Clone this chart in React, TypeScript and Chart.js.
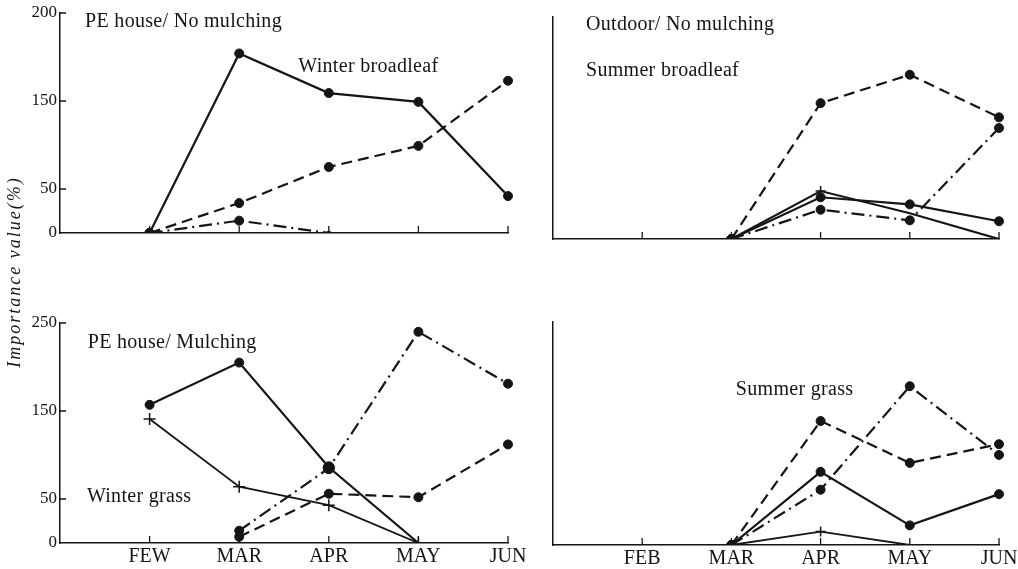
import React, { useEffect, useRef } from "react";
import { Chart, registerables } from "chart.js";

Chart.register(...registerables);

const INK = "#151515";
const SERIF = "'Liberation Serif', 'DejaVu Serif', serif";

// ---- categories / tick labels ----
const leftMonths = ["", "FEW", "MAR", "APR", "MAY", "JUN"];
const rightMonths = ["", "FEB", "MAR", "APR", "MAY", "JUN"];
const yTickValues = [0, 50, 150, 250];
const topLeftTickLabels = ["0", "50", "150", "200"];
const bottomLeftTickLabels = ["0", "50", "150", "250"];

// ---- PE house / No mulching (Winter broadleaf) ----
const phNoMulchSolid = [null, 0, 204, 159, 149, 42];
const phNoMulchDashed = [null, 0, 34, 75, 99, 173];
const phNoMulchDashDot = [null, 0, 14, 0, null, null];

// ---- Outdoor / No mulching (Summer broadleaf) ----
const odNoMulchDashed = [null, null, 0, 153, 185, 137];
const odNoMulchDashDot = [null, null, 0, 33, 21, 125];
const odNoMulchSolidA = [null, null, 0, 54, 29, 0];
const odNoMulchSolidB = [null, null, 0, 47, 39, 20];

// ---- PE house / Mulching (Winter grass) ----
const phMulchSolidDot = [null, 157, 205, 86, 0, null];
const phMulchSolidCross = [null, 141, 64, 43, 0, null];
const phMulchDashDot = [null, null, 14, 85, 240, 181];
const phMulchDashed = [null, null, 7, 56, 52, 112];

// ---- Outdoor / Mulching (Summer grass) ----
const sgDashDot = [null, null, 0, 62, 178, 101];
const sgDashed = [null, null, 0, 139, 92, 113];
const sgSolidDot = [null, null, 0, 82, 22, 57];
const sgSolidCross = [null, null, 0, 15, 0, null];

const DASH = [11, 6];
const DASHDOT = [13, 5, 2, 5];

function line(data: (number | null)[], extra: any = {}) {
  return {
    data,
    borderColor: INK,
    backgroundColor: INK,
    pointBackgroundColor: INK,
    pointBorderColor: INK,
    borderWidth: 2.2,
    pointRadius: 4.5,
    pointHoverRadius: 4.5,
    pointBorderWidth: 1,
    tension: 0,
    fill: false,
    spanGaps: false,
    ...extra,
  };
}

const panelTextPlugin = {
  id: "panelText",
  afterDatasetsDraw(chart: any, _args: any, opts: any) {
    const items = (opts && opts.items) || [];
    const { ctx, scales } = chart;
    ctx.save();
    ctx.fillStyle = INK;
    ctx.font = `20px ${SERIF}`;
    ctx.textAlign = "left";
    ctx.textBaseline = "middle";
    (ctx as any).letterSpacing = "0.3px";
    items.forEach((it: any) => {
      ctx.fillText(it.text, scales.x.getPixelForValue(it.x), scales.y.getPixelForValue(it.y));
    });
    ctx.restore();
  },
};

const innerTicksPlugin = {
  id: "innerTicks",
  afterDraw(chart: any, _args: any, opts: any) {
    const { ctx, scales, chartArea } = chart;
    const x = scales.x;
    const y = scales.y;
    ctx.save();
    ctx.strokeStyle = INK;
    ctx.lineWidth = 1.3;
    ctx.beginPath();
    x.ticks.forEach((_t: any, i: number) => {
      if (i === 0) return;
      const px = x.getPixelForTick(i);
      ctx.moveTo(px, chartArea.bottom);
      ctx.lineTo(px, chartArea.bottom - 7);
    });
    if (opts && opts.y) {
      y.ticks.forEach((t: any, i: number) => {
        if (t.value === 0) return;
        const py = y.getPixelForTick(i);
        ctx.moveTo(chartArea.left, py);
        ctx.lineTo(chartArea.left + 6, py);
      });
    }
    ctx.stroke();
    ctx.restore();
  },
};

type Panel = {
  left: number;
  top: number;
  w: number;
  h: number;
  yW: number;
  xH: number;
  padTop: number;
  padRight: number;
  labels: string[];
  showX: boolean;
  yLabels: string[] | null;
  datasets: any[];
  texts: { text: string; x: number; y: number }[];
};

const panels: Panel[] = [
  {
    left: 20, top: 0, w: 500, h: 250, yW: 40, xH: 17, padTop: 13, padRight: 12,
    labels: leftMonths, showX: false, yLabels: topLeftTickLabels,
    datasets: [
      line(phNoMulchSolid),
      line(phNoMulchDashed, { borderDash: DASH }),
      line(phNoMulchDashDot, { borderDash: DASHDOT, pointRadius: [0, 4.5, 4.5, 2, 0, 0] }),
    ],
    texts: [
      { text: "PE house/ No mulching", x: 0.28, y: 240 },
      { text: "Winter broadleaf", x: 2.66, y: 189 },
    ],
  },
  {
    left: 530, top: 0, w: 488, h: 250, yW: 23, xH: 11, padTop: 17, padRight: 19,
    labels: rightMonths, showX: false, yLabels: null,
    datasets: [
      line(odNoMulchDashed, { borderDash: DASH }),
      line(odNoMulchDashDot, { borderDash: DASHDOT }),
      line(odNoMulchSolidA, { pointStyle: "cross", pointRadius: [0, 0, 4, 5, 0, 0], pointBorderWidth: 1.5 }),
      line(odNoMulchSolidB),
    ],
    texts: [
      { text: "Outdoor/ No mulching", x: 0.37, y: 241 },
      { text: "Summer broadleaf", x: 0.37, y: 189 },
    ],
  },
  {
    left: 20, top: 290, w: 510, h: 279, yW: 40, xH: 26, padTop: 33, padRight: 22,
    labels: leftMonths, showX: true, yLabels: bottomLeftTickLabels,
    datasets: [
      line(phMulchSolidDot, { pointRadius: [0, 4.5, 4.5, 5.5, 0, 0] }),
      line(phMulchSolidCross, { pointStyle: "cross", pointRadius: 6, pointBorderWidth: 1.5, borderWidth: 1.8 }),
      line(phMulchDashDot, { borderDash: DASHDOT, pointRadius: [0, 0, 4.5, 5.5, 4.5, 4.5] }),
      line(phMulchDashed, { borderDash: DASH }),
    ],
    texts: [
      { text: "PE house/ Mulching", x: 0.31, y: 227 },
      { text: "Winter grass", x: 0.3, y: 52 },
    ],
  },
  {
    left: 530, top: 290, w: 488, h: 279, yW: 23, xH: 24, padTop: 32, padRight: 19,
    labels: rightMonths, showX: true, yLabels: null,
    datasets: [
      line(sgDashDot, { borderDash: DASHDOT }),
      line(sgDashed, { borderDash: DASH }),
      line(sgSolidDot),
      line(sgSolidCross, { pointStyle: "cross", pointRadius: [0, 0, 0, 5, 0, 0], pointBorderWidth: 1.5, borderWidth: 1.8 }),
    ],
    texts: [{ text: "Summer grass", x: 2.05, y: 174 }],
  },
];

function buildConfig(p: Panel): any {
  return {
    type: "line",
    data: { labels: p.labels, datasets: p.datasets },
    options: {
      animation: false,
      responsive: false,
      devicePixelRatio: 1,
      layout: { padding: { top: p.padTop, right: p.padRight, left: 0, bottom: 0 } },
      plugins: {
        legend: { display: false },
        tooltip: { enabled: false },
        panelText: { items: p.texts },
        innerTicks: { y: !!p.yLabels },
      },
      scales: {
        x: {
          type: "category",
          offset: false,
          grid: { display: false, drawTicks: false },
          border: { display: true, color: INK, width: 1.5 },
          ticks: {
            display: p.showX,
            color: INK,
            font: { family: SERIF, size: 20 },
            padding: 2,
            autoSkip: false,
            maxRotation: 0,
            minRotation: 0,
            callback: (_v: any, i: number) => p.labels[i],
          },
          afterFit: (s: any) => {
            s.height = p.xH;
            s.paddingLeft = 0;
            s.paddingRight = 0;
          },
        },
        y: {
          min: 0,
          max: 250,
          grid: { display: false, drawTicks: false },
          border: { display: true, color: INK, width: 1.5 },
          afterBuildTicks: (s: any) => {
            s.ticks = yTickValues.map((v) => ({ value: v }));
          },
          ticks: {
            display: !!p.yLabels,
            color: INK,
            font: { family: SERIF, size: 17 },
            padding: 3,
            callback: (_v: any, i: number) => (p.yLabels ? p.yLabels[i] : ""),
          },
          afterFit: (s: any) => {
            s.width = p.yW;
            s.paddingTop = 0;
            s.paddingBottom = 0;
          },
        },
      },
    },
    plugins: [panelTextPlugin, innerTicksPlugin],
  };
}

export default function App() {
  const refs = useRef<(HTMLCanvasElement | null)[]>([]);

  useEffect(() => {
    const charts = panels.map((p, i) => {
      const c = refs.current[i] as HTMLCanvasElement;
      return new Chart(c, buildConfig(p));
    });
    return () => charts.forEach((c) => c.destroy());
  }, []);

  return (
    <div style={{ position: "absolute", left: 0, top: 0, width: 1018, height: 569, background: "#fff", overflow: "hidden" }}>
      {panels.map((p, i) => (
        <canvas
          key={i}
          ref={(el) => { refs.current[i] = el; }}
          width={p.w}
          height={p.h}
          style={{ position: "absolute", left: p.left, top: p.top, width: p.w, height: p.h }}
        />
      ))}
      <div
        style={{
          position: "absolute",
          left: 14 - 130,
          top: 272 - 11,
          width: 260,
          height: 22,
          lineHeight: "22px",
          textAlign: "center",
          transform: "rotate(-90deg)",
          fontFamily: SERIF,
          fontStyle: "italic",
          fontSize: 18,
          letterSpacing: "2px",
          color: INK,
          whiteSpace: "nowrap",
        }}
      >
        Importance value(%)
      </div>
    </div>
  );
}
